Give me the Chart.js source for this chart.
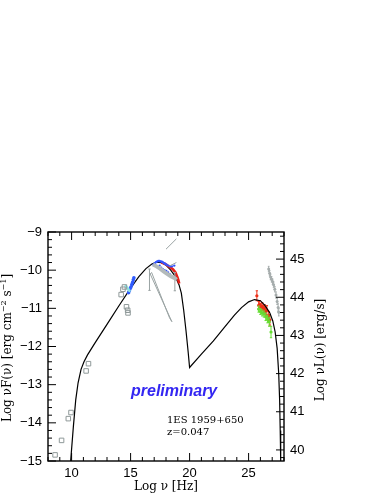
<!DOCTYPE html>
<html>
<head>
<meta charset="utf-8">
<script src="https://cdn.jsdelivr.net/npm/chart.js@4.4.1/dist/chart.umd.min.js"></script>
<style>
  html, body { margin: 0; padding: 0; background: #fff; }
</style>
</head>
<body>
<canvas id="sed" width="382" height="494"></canvas>
<script>
// axis ticks
const xTicks = [10, 15, 20, 25];
const yTicks = [-15, -14, -13, -12, -11, -10, -9];
const lumTicks = [40, 41, 42, 43, 44, 45];
const lumOffset = 54.71; // log nuL = log nuF + offset (z=0.047)

// SSC model curve
const modelNu = [9.92, 10.15, 10.35, 10.55, 10.8, 11.05, 11.35, 12.0, 13.0, 14.0, 15.0, 15.7, 16.3, 16.8, 17.2, 17.6, 18.0, 18.4, 18.8, 19.1, 19.3, 19.5, 19.7, 19.88, 20.0,
  21.0, 22.0, 23.0, 23.8, 24.4, 25.0, 25.5, 26.0, 26.4, 26.8, 27.05, 27.25, 27.42, 27.55, 27.63, 27.68, 27.72];
const modelFlux = [-15, -14.1, -13.4, -12.95, -12.6, -12.4, -12.22, -11.9, -11.42, -10.94, -10.47, -10.17, -9.96, -9.84, -9.79, -9.8, -9.87, -10.0, -10.17, -10.38, -10.6, -11.05, -11.6, -12.15, -12.55,
  -12.2, -11.86, -11.48, -11.18, -10.98, -10.83, -10.77, -10.8, -10.93, -11.12, -11.33, -11.62, -12.05, -12.7, -13.4, -14.2, -15.0];

// archival radio / optical (grey squares)
const archNu = [8.6, 9.15, 9.72, 9.95, 11.23, 11.43, 14.2, 14.35, 14.48, 14.65, 14.75, 14.78];
const archFlux = [-14.84, -14.46, -13.89, -13.73, -12.64, -12.45, -10.64, -10.5, -10.44, -10.96, -11.05, -11.12];

// optical / UV
const optNu = [14.6, 14.7, 14.8, 14.9];
const optFlux = [-10.42, -10.46, -10.5, -10.54];
const uvNu = [14.83, 14.9, 14.97, 15.03, 15.1, 15.17, 15.23, 15.28];
const uvFlux = [-10.59, -10.54, -10.48, -10.44, -10.38, -10.32, -10.25, -10.2];

// X-ray spectra
const xHighNu = [16.95, 17.05, 17.15, 17.25, 17.35, 17.45, 17.55, 17.65, 17.75, 17.85, 17.95, 18.05, 18.2, 18.35, 18.5, 18.7];
const xHighFlux = [-9.86, -9.82, -9.79, -9.77, -9.76, -9.76, -9.77, -9.78, -9.8, -9.82, -9.84, -9.86, -9.88, -9.9, -9.9, -9.88];
const xLowNu = [17.46, 17.6, 17.74, 17.88, 18.03, 18.18, 18.32, 18.45];
const xLowFlux = [-9.88, -9.93, -9.97, -10.0, -10.02, -10.06, -10.1, -10.15];
const xRedNu = [17.6, 17.9, 18.17, 18.4, 18.6, 18.8, 18.95, 19.05, 19.12];
const xRedFlux = [-9.8, -9.83, -9.89, -9.93, -9.98, -10.06, -10.17, -10.26, -10.35];
const xGreyNu = [16.9, 17.2, 17.5, 17.8, 18.1, 18.4, 18.7, 18.9];
const xGreyFlux = [-9.85, -9.9, -9.96, -10.03, -10.1, -10.16, -10.2, -10.25];
const xBarNu = [16.6, 18.75];
const xBarFlux = [-10.25, -10.3];
const xBarErr = [0.28, 0.24];
const bowNu = [16.66, 18.5, 18.3, 16.78];
const bowFlux = [-10.1, -11.35, -11.25, -10.06];
const slopeNu = [18.0, 18.88];
const slopeFlux = [-9.45, -9.18];
const slope2Nu = [18.3, 18.88];
const slope2Flux = [-9.89, -9.8];

// TeV
const tevGreyNu = [26.7, 26.78, 26.86, 26.95, 27.03, 27.12, 27.22, 27.32, 27.42, 27.5, 27.56];
const tevGreyFlux = [-9.97, -10.08, -10.18, -10.24, -10.3, -10.38, -10.5, -10.65, -10.82, -10.98, -11.1];
const tevGreyErr = [0.07, 0.07, 0.07, 0.07, 0.07, 0.07, 0.07, 0.08, 0.08, 0.1, 0.1];
const tevRedNu = [25.7, 25.85, 25.95, 26.05, 26.15, 26.25, 26.35, 26.45, 26.55, 26.7, 26.8];
const tevRedFlux = [-10.67, -10.92, -10.9, -10.98, -10.95, -11.02, -11.0, -11.08, -11.05, -11.2, -11.3];
const tevRedErr = [0.13, 0.1, 0.1, 0.1, 0.1, 0.1, 0.1, 0.1, 0.12, 0.12, 0.14];
const tevGreenNu = [25.85, 26.0, 26.15, 26.3, 26.45, 26.6, 26.75, 26.9];
const tevGreenFlux = [-11.02, -11.08, -11.12, -11.15, -11.22, -11.28, -11.35, -11.62];
const tevGreenErr = [0.08, 0.08, 0.08, 0.08, 0.1, 0.1, 0.12, 0.15];

const GREY = '#9aa3a3';
const pts = (xs, ys) => xs.map((x, i) => ({ x: x, y: ys[i] }));

// vertical bars with small caps, broken apart by null points
function errBars(xs, ys, es, cap) {
  const out = [];
  xs.forEach((x, i) => {
    const lo = ys[i] - es[i], hi = ys[i] + es[i];
    out.push({ x: x, y: lo }, { x: x, y: hi }, { x: null, y: null });
    out.push({ x: x - cap, y: lo }, { x: x + cap, y: lo }, { x: null, y: null });
    out.push({ x: x - cap, y: hi }, { x: x + cap, y: hi }, { x: null, y: null });
  });
  return out;
}

function lineSet(data, color, width) {
  return { data: data, showLine: true, borderColor: color, borderWidth: width, pointRadius: 0, spanGaps: false, tension: 0 };
}
function dotSet(data, color, r) {
  return { data: data, showLine: false, pointRadius: r, pointBackgroundColor: color, pointBorderWidth: 0, borderColor: color };
}

// inward tick marks, frame and axis titles
const framePlugin = {
  id: 'frame',
  afterDraw(chart) {
    const ctx = chart.ctx, a = chart.chartArea;
    const sx = chart.scales.x, sy = chart.scales.y, sl = chart.scales.y2;
    ctx.save();
    ctx.strokeStyle = '#000';
    ctx.lineWidth = 1.4;
    ctx.strokeRect(a.left, a.top, a.right - a.left, a.bottom - a.top);
    ctx.lineWidth = 1;
    ctx.beginPath();
    for (let v = 8; v <= 28; v++) {
      const p = sx.getPixelForValue(v), len = v % 5 === 0 ? 8 : 4;
      ctx.moveTo(p, a.bottom); ctx.lineTo(p, a.bottom - len);
      ctx.moveTo(p, a.top); ctx.lineTo(p, a.top + len);
    }
    for (let k = -75; k <= -45; k++) {
      const v = k / 5, p = sy.getPixelForValue(v), len = k % 5 === 0 ? 8 : 4;
      ctx.moveTo(a.left, p); ctx.lineTo(a.left + len, p);
    }
    for (let k = 199; k <= 228; k++) {
      const v = k / 5, p = sl.getPixelForValue(v), len = k % 5 === 0 ? 8 : 4;
      ctx.moveTo(a.right, p); ctx.lineTo(a.right - len, p);
    }
    ctx.stroke();

    const serif = '12px "DejaVu Serif"', sup = '8px "DejaVu Serif"';
    function rich(parts, cx, cy, rot) {
      ctx.save();
      ctx.translate(cx, cy);
      ctx.rotate(rot);
      let w = 0;
      parts.forEach(pt => { ctx.font = pt.s ? sup : serif; w += ctx.measureText(pt.t).width; });
      let x = -w / 2;
      ctx.textBaseline = 'middle';
      ctx.fillStyle = '#000';
      parts.forEach(pt => {
        ctx.font = pt.s ? sup : serif;
        ctx.fillText(pt.t, x, pt.s ? -4 : 0);
        x += ctx.measureText(pt.t).width;
      });
      ctx.restore();
    }
    rich([{ t: 'Log νF(ν) [erg cm' }, { t: '−2', s: 1 }, { t: ' s' }, { t: '−1', s: 1 }, { t: ']' }], 8, 348, -Math.PI / 2);
    rich([{ t: 'Log νL(ν) [erg/s]' }], 321, 350, -Math.PI / 2);
    rich([{ t: 'Log ν [Hz]' }], 166, 487, 0);

    ctx.fillStyle = '#3326f2';
    ctx.font = 'italic bold 16px "Liberation Sans"';
    ctx.textBaseline = 'alphabetic';
    ctx.fillText('preliminary', 131, 396);
    ctx.fillStyle = '#000';
    ctx.font = '10px "DejaVu Serif"';
    ctx.textBaseline = 'middle';
    ctx.fillText('1ES 1959+650', 167, 420);
    ctx.fillText('z=0.047', 167, 432);
    ctx.restore();
  }
};

const tickFont = { family: '"Liberation Sans"', size: 13 };
const minus = v => String(v).replace('-', '\u2212');
const noGrid = { display: false, drawTicks: false };

new Chart(document.getElementById('sed'), {
  type: 'scatter',
  data: {
    datasets: [
      lineSet(pts(bowNu.concat(bowNu[0]), bowFlux.concat(bowFlux[0])), GREY, 1),
      lineSet(pts(slopeNu, slopeFlux), GREY, 1),
      lineSet(pts(slope2Nu, slope2Flux), GREY, 1),
      lineSet(pts(xGreyNu, xGreyFlux), '#b3baba', 4),
      lineSet(errBars(xBarNu, xBarFlux, xBarErr, 0.1), GREY, 1),
      { data: pts(archNu, archFlux), showLine: false, pointStyle: 'rect', pointRadius: 3.2, pointBorderWidth: 1,
        borderColor: '#8f9999', pointBackgroundColor: 'rgba(255,255,255,0)' },
      dotSet(pts(optNu, optFlux), '#8ee6e2', 1.4),
      dotSet(pts(uvNu, uvFlux), '#2f5bff', 1.8),
      dotSet(pts(xLowNu, xLowFlux), '#3355ff', 1.1),
      dotSet(pts(xHighNu, xHighFlux), '#3355ff', 1.2),
      lineSet(pts(xRedNu, xRedFlux), '#e8201a', 2.6),
      lineSet(pts(modelNu, modelFlux), '#000', 1.2),
      lineSet(errBars(tevGreyNu, tevGreyFlux, tevGreyErr, 0.07), '#a6adad', 1),
      dotSet(pts(tevGreyNu, tevGreyFlux), '#a6adad', 1.5),
      lineSet(errBars(tevGreenNu, tevGreenFlux, tevGreenErr, 0.1), '#66dd33', 1),
      dotSet(pts(tevGreenNu, tevGreenFlux), '#66dd33', 1.6),
      lineSet(errBars(tevRedNu, tevRedFlux, tevRedErr, 0.1), '#ee3018', 1),
      dotSet(pts(tevRedNu, tevRedFlux), '#ee3018', 1.6)
    ]
  },
  options: {
    responsive: false,
    animation: false,
    devicePixelRatio: 1,
    layout: { padding: { top: 232, left: 0, right: 0, bottom: 0 } },
    plugins: { legend: { display: false }, tooltip: { enabled: false } },
    scales: {
      x: {
        type: 'linear', min: 8, max: 28,
        grid: noGrid, border: { display: false },
        afterBuildTicks: s => { s.ticks = xTicks.map(v => ({ value: v })); },
        afterFit: s => { s.height = 33; },
        ticks: { font: tickFont, color: '#000', padding: 5, maxRotation: 0, autoSkip: false }
      },
      y: {
        type: 'linear', position: 'left', min: -15, max: -9,
        grid: noGrid, border: { display: false },
        afterBuildTicks: s => { s.ticks = yTicks.map(v => ({ value: v })); },
        afterFit: s => { s.width = 48; },
        ticks: { font: tickFont, color: '#000', padding: 6, autoSkip: false, callback: minus }
      },
      y2: {
        type: 'linear', position: 'right', min: -15 + lumOffset, max: -9 + lumOffset,
        grid: noGrid, border: { display: false },
        afterBuildTicks: s => { s.ticks = lumTicks.map(v => ({ value: v })); },
        afterFit: s => { s.width = 98; },
        ticks: { font: tickFont, color: '#000', padding: 6, autoSkip: false }
      }
    }
  },
  plugins: [framePlugin]
});
</script>
</body>
</html>
